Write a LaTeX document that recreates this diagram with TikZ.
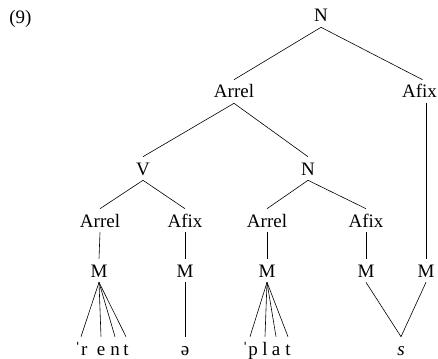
\documentclass[tikz,border=0pt]{standalone}
\usepackage{fontspec}
\setmainfont{Liberation Serif}

\begin{document}
\begin{tikzpicture}[x=1pt,y=-1pt,line width=.6pt,
    lbl/.style={anchor=base,font=\fontsize{19}{21}\selectfont,inner xsep=1pt,inner ysep=5pt,text height=13pt,text depth=0pt}]
    \useasboundingbox (0,0) rectangle (438,358);
    \node[lbl,anchor=base west] (ex) at (8,24) {(9)};
    \node[lbl] (N) at (321,22) {N};
    \node[lbl] (Arrel) at (234,98) {Arrel};
    \node[lbl] (Afix) at (419.5,98) {Afix};
    \node[lbl] (V) at (143,175) {V};
    \node[lbl] (NN) at (308,175) {N};
    \node[lbl] (ArrelV) at (100,227) {Arrel};
    \node[lbl] (AfixV) at (185,227) {Afix};
    \node[lbl] (ArrelN) at (267,227) {Arrel};
    \node[lbl] (AfixN) at (366,227) {Afix};
    \node[lbl] (Ma) at (99,277) {M};
    \node[lbl] (Mb) at (185,277) {M};
    \node[lbl] (Mc) at (267,277) {M};
    \node[lbl] (Md) at (366,277) {M};
    \node[lbl] (Me) at (426,277) {M};
    \node[lbl] (r) at (81,355) {ˈr};
    \node[lbl] (e) at (101,355) {e};
    \node[lbl] (n) at (115,355) {n};
    \node[lbl] (t) at (126,355) {t};
    \node[lbl] (schwa) at (185,355) {ə};
    \node[lbl] (p) at (250,355) {ˈp};
    \node[lbl] (l) at (265,355) {l};
    \node[lbl] (a) at (276,355) {a};
    \node[lbl] (tt) at (288,355) {t};
    \node[lbl] (s) at (401,355) {\itshape s};

    \draw (N.south) -- (Arrel.north);
    \draw (N.south) -- ([xshift=3pt]Afix.north);
    \draw (Arrel.south) -- (V.north);
    \draw (Arrel.south) -- (NN.north);
    \draw (V.south) -- (ArrelV.north);
    \draw (V.south) -- (AfixV.north);
    \draw (NN.south) -- (ArrelN.north);
    \draw (NN.south) -- (AfixN.north);
    \draw (ArrelV.south) -- (Ma.north);
    \draw (AfixV.south) -- (Mb.north);
    \draw (ArrelN.south) -- (Mc.north);
    \draw (AfixN.south) -- (Md.north);
    \draw (Afix.south -| Me.north) -- (Me.north);
    \foreach \seg in {r,e,n,t}
        \draw (Ma.south) -- (\seg.north);
    \draw (Mb.south) -- (schwa.north);
    \foreach \seg in {p,l,a,tt}
        \draw (Mc.south) -- (\seg.north);
    \draw (Md.south) -- (s.north);
    \draw (Me.south) -- (s.north);
\end{tikzpicture}
\end{document}
